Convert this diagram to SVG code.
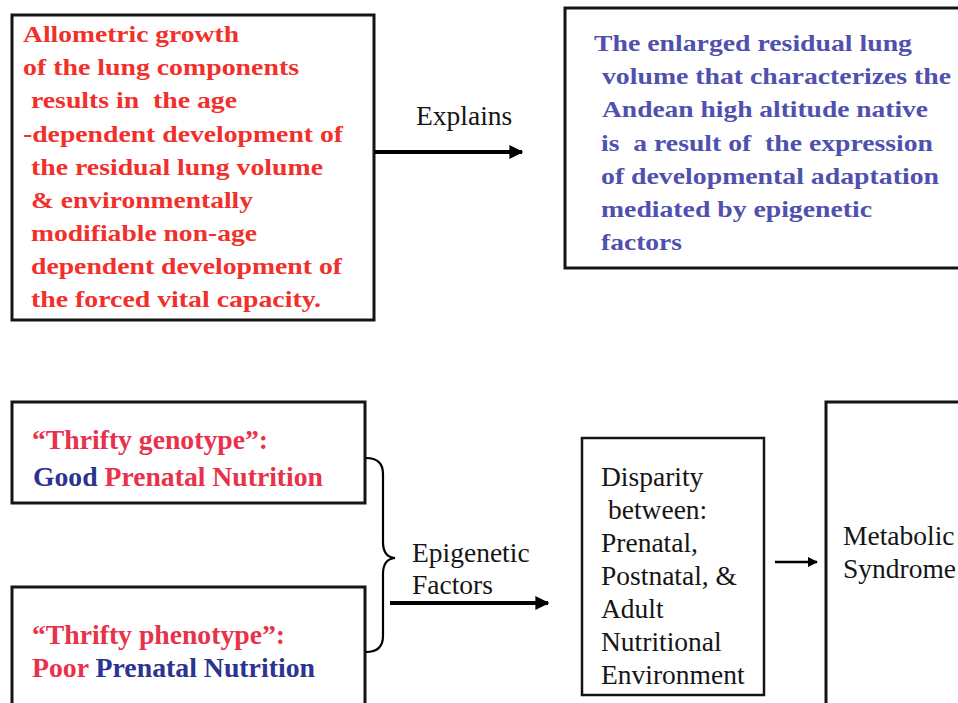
<svg xmlns="http://www.w3.org/2000/svg" width="958" height="703" viewBox="0 0 958 703">
<defs>
<style>
.box{fill:#fff;stroke:#151515;stroke-width:3}
.red{fill:#f1302b}
.purple{fill:#5050ae}
.pink{fill:#e8324b}
.navy{fill:#2b3490}
.conn{stroke:#000;fill:none}
</style>
<marker id="ah" viewBox="0 0 10 10" refX="9" refY="5" markerWidth="3.5" markerHeight="3.5" orient="auto" markerUnits="strokeWidth">
<path d="M0,0 L10,5 L0,10 z" fill="#000"/>
</marker>
<marker id="ahs" viewBox="0 0 10 10" refX="9" refY="5" markerWidth="4" markerHeight="4" orient="auto" markerUnits="strokeWidth">
<path d="M0,0 L10,5 L0,10 z" fill="#000"/>
</marker>
</defs>
<rect width="958" height="703" fill="#fff"/>

<g id="allometric">
<rect class="box" x="12" y="15" width="362" height="305"/>
<text class="red" font-family="'Liberation Serif', serif" font-weight="bold" font-size="24" x="23" y="42" textLength="216" lengthAdjust="spacingAndGlyphs">Allometric growth</text>
<text class="red" font-family="'Liberation Serif', serif" font-weight="bold" font-size="24" x="23" y="75" textLength="276" lengthAdjust="spacingAndGlyphs">of the lung components</text>
<text class="red" font-family="'Liberation Serif', serif" font-weight="bold" font-size="24" x="31" y="108" textLength="206" lengthAdjust="spacingAndGlyphs" xml:space="preserve">results in  the age</text>
<text class="red" font-family="'Liberation Serif', serif" font-weight="bold" font-size="24" x="23" y="142" textLength="320" lengthAdjust="spacingAndGlyphs">-dependent development of</text>
<text class="red" font-family="'Liberation Serif', serif" font-weight="bold" font-size="24" x="31" y="175" textLength="292" lengthAdjust="spacingAndGlyphs">the residual lung volume</text>
<text class="red" font-family="'Liberation Serif', serif" font-weight="bold" font-size="24" x="31" y="208" textLength="222" lengthAdjust="spacingAndGlyphs">&amp; environmentally</text>
<text class="red" font-family="'Liberation Serif', serif" font-weight="bold" font-size="24" x="31" y="241" textLength="226" lengthAdjust="spacingAndGlyphs">modifiable non-age</text>
<text class="red" font-family="'Liberation Serif', serif" font-weight="bold" font-size="24" x="31" y="274" textLength="311" lengthAdjust="spacingAndGlyphs">dependent development of</text>
<text class="red" font-family="'Liberation Serif', serif" font-weight="bold" font-size="24" x="31" y="307" textLength="290" lengthAdjust="spacingAndGlyphs">the forced vital capacity.</text>
</g>

<g id="enlarged">
<rect class="box" x="565" y="8" width="400" height="260"/>
<text class="purple" font-family="'Liberation Serif', serif" font-weight="bold" font-size="24" x="594" y="51" textLength="318" lengthAdjust="spacingAndGlyphs">The enlarged residual lung</text>
<text class="purple" font-family="'Liberation Serif', serif" font-weight="bold" font-size="24" x="602" y="84" textLength="349" lengthAdjust="spacingAndGlyphs">volume that characterizes the</text>
<text class="purple" font-family="'Liberation Serif', serif" font-weight="bold" font-size="24" x="602" y="117" textLength="326" lengthAdjust="spacingAndGlyphs">Andean high altitude native</text>
<text class="purple" font-family="'Liberation Serif', serif" font-weight="bold" font-size="24" x="601" y="151" textLength="332" lengthAdjust="spacingAndGlyphs" xml:space="preserve">is  a result of  the expression</text>
<text class="purple" font-family="'Liberation Serif', serif" font-weight="bold" font-size="24" x="601" y="184" textLength="338" lengthAdjust="spacingAndGlyphs">of developmental adaptation</text>
<text class="purple" font-family="'Liberation Serif', serif" font-weight="bold" font-size="24" x="601" y="217" textLength="271" lengthAdjust="spacingAndGlyphs">mediated by epigenetic</text>
<text class="purple" font-family="'Liberation Serif', serif" font-weight="bold" font-size="24" x="601" y="250" textLength="81" lengthAdjust="spacingAndGlyphs">factors</text>
</g>

<g id="genotype">
<rect class="box" x="12" y="402" width="353" height="101"/>
<text class="pink" font-family="'Liberation Serif', serif" font-weight="bold" font-size="27" x="32" y="449" textLength="236" lengthAdjust="spacingAndGlyphs">“Thrifty genotype”:</text>
<text font-family="'Liberation Serif', serif" font-weight="bold" font-size="27" x="33" y="486" textLength="290" lengthAdjust="spacingAndGlyphs"><tspan class="navy">Good</tspan><tspan class="pink"> Prenatal Nutrition</tspan></text>
</g>

<g id="phenotype">
<rect class="box" x="12" y="587" width="353" height="130"/>
<text class="pink" font-family="'Liberation Serif', serif" font-weight="bold" font-size="27" x="32" y="644" textLength="253" lengthAdjust="spacingAndGlyphs">“Thrifty phenotype”:</text>
<text font-family="'Liberation Serif', serif" font-weight="bold" font-size="27" x="32" y="677" textLength="283" lengthAdjust="spacingAndGlyphs"><tspan class="pink">Poor</tspan><tspan class="navy"> Prenatal Nutrition</tspan></text>
</g>

<g id="disparity">
<rect class="box" x="582" y="438" width="182" height="257" style="stroke-width:2.5"/>
<text font-family="'Liberation Serif', serif" font-size="27.5" fill="#151515" x="601" y="486">Disparity</text>
<text font-family="'Liberation Serif', serif" font-size="27.5" fill="#151515" x="608" y="519">between:</text>
<text font-family="'Liberation Serif', serif" font-size="27.5" fill="#151515" x="601" y="552">Prenatal,</text>
<text font-family="'Liberation Serif', serif" font-size="27.5" fill="#151515" x="601" y="585">Postnatal, &amp;</text>
<text font-family="'Liberation Serif', serif" font-size="27.5" fill="#151515" x="601" y="618">Adult</text>
<text font-family="'Liberation Serif', serif" font-size="27.5" fill="#151515" x="601" y="651">Nutritional</text>
<text font-family="'Liberation Serif', serif" font-size="27.5" fill="#151515" x="601" y="684">Environment</text>
</g>

<g id="metabolic">
<rect class="box" x="826" y="402" width="140" height="320"/>
<text font-family="'Liberation Serif', serif" font-size="27.5" fill="#151515" x="843" y="545">Metabolic</text>
<text font-family="'Liberation Serif', serif" font-size="27.5" fill="#151515" x="843" y="578">Syndrome</text>
</g>

<g id="connectors">
<path class="conn" d="M374,152 H522" stroke-width="4" marker-end="url(#ah)"/>
<text font-family="'Liberation Serif', serif" font-size="27.5" fill="#151515" x="416" y="125">Explains</text>
<path class="conn" stroke-width="2.2" d="M366,458 Q383,458 383,474 V542 Q383,557 395,558 Q383,559 383,574 V636 Q383,652 366,652"/>
<text font-family="'Liberation Serif', serif" font-size="27.5" fill="#151515" x="412" y="562">Epigenetic</text>
<text font-family="'Liberation Serif', serif" font-size="27.5" fill="#151515" x="412" y="594">Factors</text>
<path class="conn" d="M390,603 H548" stroke-width="4" marker-end="url(#ah)"/>
<path class="conn" d="M775,562 H817" stroke-width="2.5" marker-end="url(#ahs)"/>
</g>
</svg>
